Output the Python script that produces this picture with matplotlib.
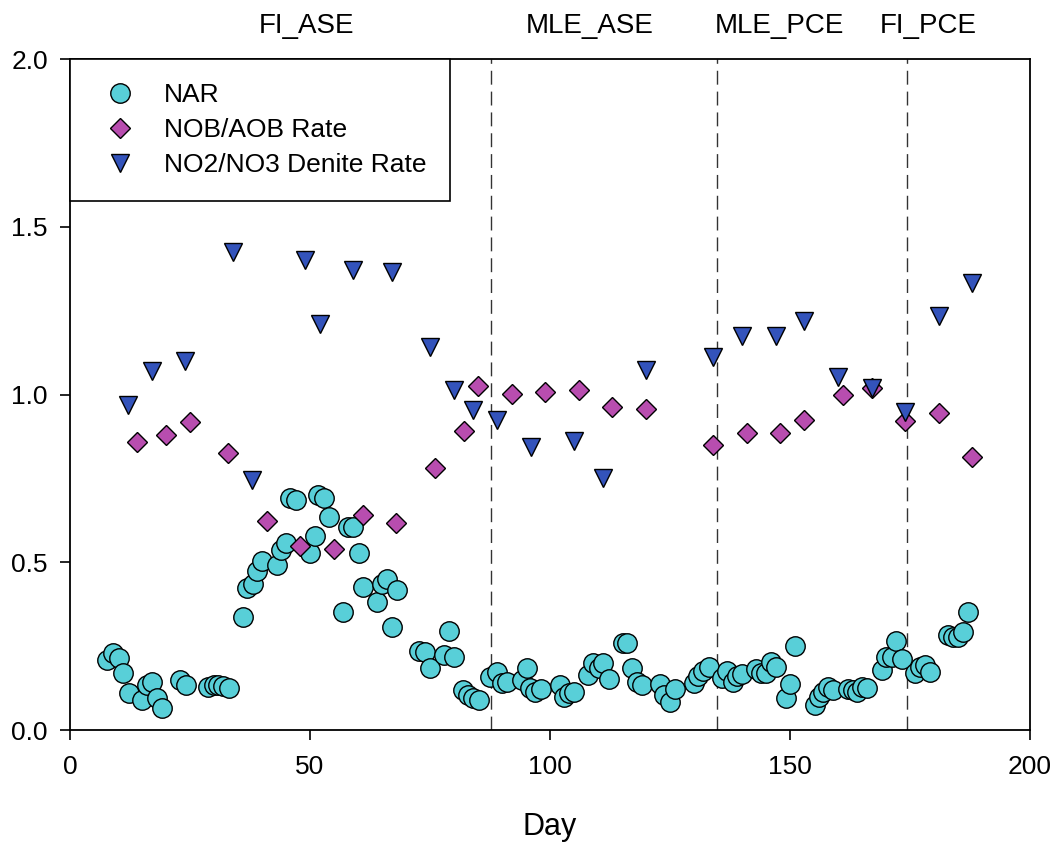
import matplotlib.pyplot as plt

plt.rcParams['font.family'] = ['Liberation Sans', 'DejaVu Sans']

# NAR (circles)
nar_day = [7.6, 8.9, 10.1, 11.0, 12.2, 14.9, 16.1, 17.0, 18.1, 19.1,
           22.9, 24.1, 28.8, 29.9, 30.9, 31.9, 33.2, 36.0, 36.9, 38.1,
           39.0, 39.9, 43.1, 43.9, 45.0, 45.8, 47.1, 50.0, 51.0, 51.7,
           52.9, 54.0, 56.9, 58.0, 59.0, 60.1, 61.0, 64.0, 64.9, 66.1,
           67.0, 68.1, 72.6, 74.0, 75.0, 77.9, 79.0, 80.0, 81.9, 83.0,
           83.9, 85.1, 87.5, 89.0, 89.9, 91.0, 94.1, 95.1, 95.8, 96.9,
           98.1, 102.1, 102.9, 104.0, 105.0, 108.0, 109.0, 110.1, 111.1, 112.2,
           115.1, 116.1, 117.0, 118.1, 119.1, 122.9, 123.8, 125.0, 126.0, 129.9,
           130.9, 131.9, 133.2, 135.8, 136.9, 138.1, 139.0, 140.1, 142.9, 143.9,
           145.0, 146.0, 147.1, 149.2, 150.1, 151.0, 155.2, 156.1, 156.9, 158.0,
           159.0, 162.1, 163.1, 164.0, 165.1, 166.1, 169.1, 170.0, 171.2, 172.1,
           173.3, 176.0, 177.1, 178.1, 179.2, 183.0, 184.0, 185.1, 186.1, 187.1]
nar_val = [0.209, 0.229, 0.214, 0.169, 0.109, 0.091, 0.134, 0.144, 0.094, 0.065,
           0.149, 0.134, 0.129, 0.134, 0.134, 0.131, 0.124, 0.338, 0.423, 0.435,
           0.475, 0.504, 0.492, 0.537, 0.557, 0.691, 0.686, 0.527, 0.577, 0.701,
           0.691, 0.634, 0.353, 0.606, 0.606, 0.527, 0.427, 0.383, 0.435, 0.449,
           0.308, 0.416, 0.237, 0.234, 0.184, 0.224, 0.296, 0.219, 0.119, 0.104,
           0.094, 0.089, 0.157, 0.174, 0.139, 0.144, 0.149, 0.184, 0.124, 0.114,
           0.121, 0.134, 0.099, 0.109, 0.114, 0.164, 0.199, 0.184, 0.201, 0.151,
           0.259, 0.259, 0.184, 0.144, 0.134, 0.137, 0.104, 0.084, 0.121, 0.139,
           0.161, 0.177, 0.187, 0.154, 0.177, 0.144, 0.161, 0.167, 0.181, 0.171,
           0.169, 0.204, 0.189, 0.094, 0.137, 0.251, 0.075, 0.099, 0.114, 0.127,
           0.119, 0.121, 0.119, 0.114, 0.127, 0.124, 0.179, 0.219, 0.217, 0.266,
           0.211, 0.171, 0.189, 0.194, 0.174, 0.283, 0.278, 0.276, 0.293, 0.353]

# NOB/AOB rate (diamonds)
nob_day = [14, 20, 25, 33, 41, 48, 55, 61, 68, 76, 82, 85, 92,
           99, 106, 113, 120, 134, 141, 148, 153, 161, 167, 174, 181, 188]
nob_val = [0.858, 0.880, 0.917, 0.827, 0.623, 0.550, 0.539, 0.641, 0.618,
           0.780, 0.890, 1.024, 1.002, 1.009, 1.014, 0.962, 0.956, 0.850,
           0.885, 0.885, 0.925, 0.999, 1.019, 0.920, 0.944, 0.815]

# NO2/NO3 denite rate (triangles)
den_day = [12, 17, 24, 34, 38, 49, 52, 59, 67, 75, 80, 84, 89,
           96, 105, 111, 120, 134, 140, 147, 153, 160, 167, 174, 181, 188]
den_val = [0.969, 1.069, 1.101, 1.424, 0.746, 1.402, 1.211, 1.372, 1.364,
           1.143, 1.012, 0.954, 0.925, 0.845, 0.860, 0.752, 1.074, 1.112,
           1.175, 1.175, 1.218, 1.052, 1.019, 0.949, 1.233, 1.332]

# phase boundaries and labels
phase_lines = [87.6, 134.7, 174.4]
phase_names = ['FI_ASE', 'MLE_ASE', 'MLE_PCE', 'FI_PCE']
phase_label_x = [49.3, 108.3, 147.9, 178.8]

fig = plt.figure(figsize=(10.55, 8.43), dpi=100)
ax = fig.add_axes([0.0664, 0.134, 0.9099, 0.796])

ax.plot(nar_day, nar_val, 'o', ms=14, mfc='#58cfd8', mec='black', mew=1.0,
        ls='none', label='NAR')
ax.plot(nob_day, nob_val, 'D', ms=10, mfc='#b84daf', mec='black', mew=1.0,
        ls='none', label='NOB/AOB Rate')
ax.plot(den_day, den_val, 'v', ms=12.5, mfc='#3353bb', mec='black', mew=1.0,
        ls='none', label='NO2/NO3 Denite Rate')

for x in phase_lines:
    ax.axvline(x, color='#333333', lw=1.0, ls=(0, (10, 5)), zorder=0)

for x, name in zip(phase_label_x, phase_names):
    ax.text(x, 2.06, name, ha='center', va='bottom', fontsize=20)

ax.set_xlim(0, 200)
ax.set_ylim(0, 2.0)
ax.set_xticks([0, 50, 100, 150, 200])
ax.set_yticks([0.0, 0.5, 1.0, 1.5, 2.0])
ax.set_yticklabels(['0.0', '0.5', '1.0', '1.5', '2.0'])
ax.tick_params(direction='out', length=7, width=1.2, labelsize=19)
ax.tick_params(axis='x', pad=11)
ax.tick_params(axis='y', pad=9)
for s in ax.spines.values():
    s.set_linewidth(1.3)

ax.set_xlabel('Day', fontsize=22, labelpad=24)

leg = ax.legend(loc='upper left', bbox_to_anchor=(0, 1), borderaxespad=0,
                fancybox=False, edgecolor='black', fontsize=19,
                handletextpad=0.65, labelspacing=0.42, borderpad=0.9,
                handlelength=2.0, framealpha=1)
leg.get_frame().set_linewidth(1.2)

fig.savefig('out.png', dpi=100)
